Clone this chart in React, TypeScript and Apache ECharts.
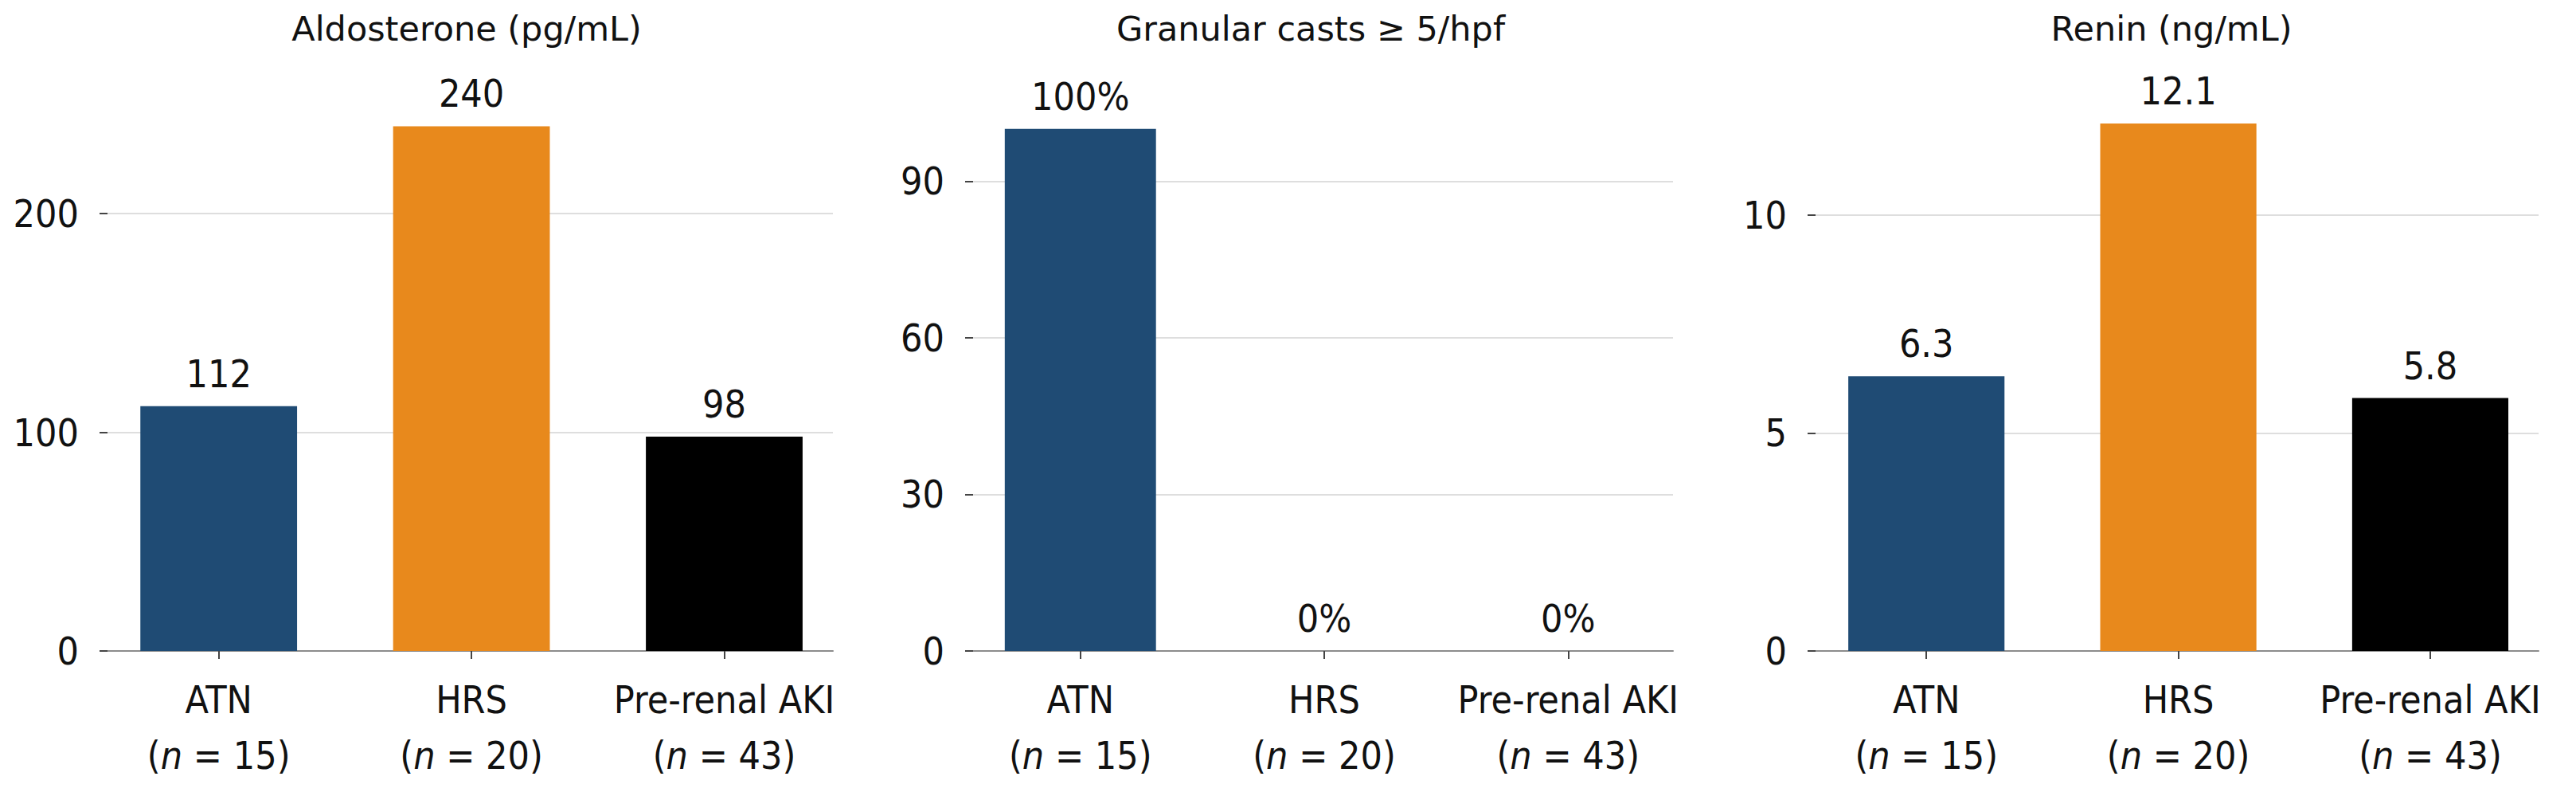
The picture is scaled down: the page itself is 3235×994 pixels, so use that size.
import React, { useEffect, useRef } from "react";
import * as echarts from "echarts";

// ---------- data ----------
const categories = ["ATN", "HRS", "Pre-renal AKI"];
const groupSizes = [15, 20, 43];
const categoryPositions = [0, 1, 2];

const panelTitles = ["Aldosterone (pg/mL)", "Granular casts \u2265 5/hpf", "Renin (ng/mL)"];
const aldosterone = [112, 240, 98];
const granularCasts = [100, 0, 0];
const renin = [6.3, 12.1, 5.8];
const valueSuffixes = ["", "%", ""];

const aldosteroneTicks = [0, 100, 200];
const granularTicks = [0, 30, 60, 90];
const reninTicks = [0, 5, 10];

const barColors = ["#1f4b74", "#e8891c", "#000000"];

// ---------- layout ----------
const W = 3235;
const H = 994;
const FONT = '"DejaVu Sans Condensed", "DejaVu Sans", sans-serif';
const TITLE_FONT = '"DejaVu Sans", sans-serif';
const TEXT = "#111111";
const panelLayout = [
  { left: 135, width: 911, top: 131, yMax: 250, titleX: 581 },
  { left: 1222, width: 879, top: 129, yMax: 105, titleX: 1641 },
  { left: 2280, width: 908, top: 133, yMax: 12.5, titleX: 2722 },
];
const panelValues = [aldosterone, granularCasts, renin];
const panelTicks = [aldosteroneTicks, granularTicks, reninTicks];

function buildOption() {
  const richBase = { fontFamily: FONT, fontSize: 48, lineHeight: 70, color: TEXT };
  return {
    animation: false,
    backgroundColor: "#ffffff",
    textStyle: { fontFamily: FONT },
    title: panelLayout.map((l, i) => ({
      text: panelTitles[i],
      left: l.titleX,
      top: 9,
      textAlign: "center",
      textStyle: { fontFamily: TITLE_FONT, fontSize: 43, fontWeight: "normal", color: TEXT },
    })),
    grid: panelLayout.map((l) => ({
      left: l.left,
      width: l.width,
      top: l.top,
      bottom: 177,
      containLabel: false,
    })),
    xAxis: panelLayout.map((l, i) => ({
      type: "value",
      gridIndex: i,
      min: -0.44,
      max: 2.43,
      axisLine: { show: true, onZero: false, lineStyle: { color: "#8c8c8c", width: 2 } },
      axisTick: { show: true, customValues: categoryPositions, length: 10, lineStyle: { color: "#444444", width: 2 } },
      axisLabel: {
        show: true,
        customValues: categoryPositions,
        margin: 26,
        fontFamily: FONT,
        fontSize: 48,
        lineHeight: 70,
        color: TEXT,
        formatter: (v: number) => {
          const k = Math.round(v);
          return `{c|${categories[k]}}\n{c|(}{i|n}{c| = ${groupSizes[k]})}`;
        },
        rich: {
          c: { ...richBase },
          i: { ...richBase, fontStyle: "italic" },
        },
      },
      splitLine: { show: false },
    })),
    yAxis: panelLayout.map((l, i) => ({
      type: "value",
      gridIndex: i,
      min: 0,
      max: l.yMax,
      axisLine: { show: false, onZero: false },
      axisTick: { show: true, customValues: panelTicks[i], length: 10, lineStyle: { color: "#444444", width: 2 } },
      axisLabel: {
        show: true,
        customValues: panelTicks[i],
        margin: 36,
        fontFamily: FONT,
        fontSize: 48,
        color: TEXT,
      },
      splitLine: { show: true, lineStyle: { color: "#dedede", width: 2 } },
    })),
    series: panelLayout.map((l, i) => ({
      type: "bar",
      xAxisIndex: i,
      yAxisIndex: i,
      barWidth: "62%",
      data: panelValues[i].map((v, k) => ({
        value: [categoryPositions[k], v],
        itemStyle: { color: barColors[k] },
      })),
      label: {
        show: true,
        position: "top",
        distance: 17,
        fontFamily: FONT,
        fontSize: 48,
        color: TEXT,
        formatter: (p: any) => `${p.value[1]}${valueSuffixes[i]}`,
      },
    })),
  };
}

export default function App() {
  const ref = useRef<HTMLDivElement>(null);
  useEffect(() => {
    if (!ref.current) return;
    const chart = echarts.init(ref.current, undefined, { renderer: "svg", width: W, height: H });
    chart.setOption(buildOption() as any);
    return () => chart.dispose();
  }, []);
  return (
    <div
      ref={ref}
      style={{ position: "fixed", left: 0, top: 0, width: W, height: H, background: "#ffffff" }}
    />
  );
}
